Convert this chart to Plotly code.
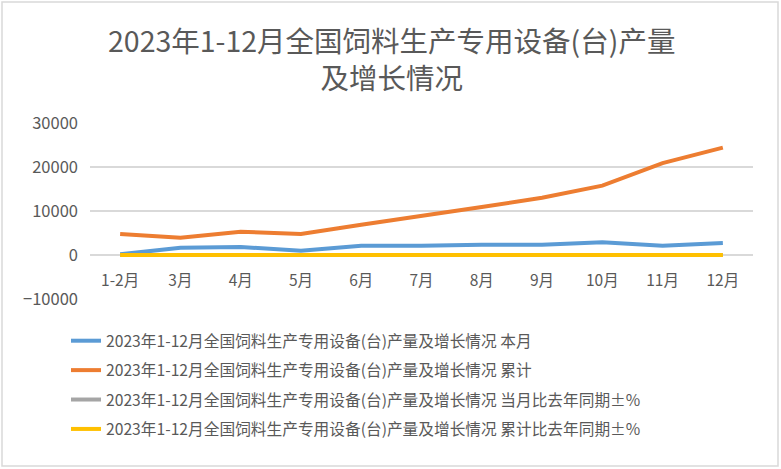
import plotly.graph_objects as go

categories = ["1-2月", "3月", "4月", "5月", "6月", "7月", "8月", "9月", "10月", "11月", "12月"]
monthly = [150, 1670, 1820, 980, 2120, 2120, 2350, 2350, 2880, 2120, 2730]
cumulative = [4770, 3940, 5300, 4770, 6890, 8790, 10900, 13030, 15760, 20900, 24390]
monthly_yoy = [-12.5, 8.3, 15.2, -20.1, 5.6, 10.4, -3.2, 12.8, 18.5, -6.7, 9.1]
cumulative_yoy = [-12.5, -5.4, 2.1, -3.8, -1.2, 1.5, 0.9, 2.8, 5.1, 3.6, 4.2]
tick_vals = [-10000, 0, 10000, 20000, 30000]

prefix = "2023年1-12月全国饲料生产专用设备(台)产量及增长情况 "
series = [
    (prefix + "本月", monthly, "#5B9BD5"),
    (prefix + "累计", cumulative, "#ED7D31"),
    (prefix + "当月比去年同期±%", monthly_yoy, "#A5A5A5"),
    (prefix + "累计比去年同期±%", cumulative_yoy, "#FFC000"),
]

FONT = "Noto Sans CJK SC"
fig = go.Figure()
for i, (name, vals, color) in enumerate(series):
    fig.add_trace(go.Scatter(x=categories, y=vals, name=name, mode="lines",
                             line=dict(color=color, width=4), legendgroup=f"g{i}"))

L, R, T, B = 90, 753, 123, 299
W, H = 781, 469

def px_x(p):
    return (p - L) / (R - L)

def px_y(p):
    return (B - p) / (B - T)

fig.update_layout(
    width=W, height=H,
    margin=dict(l=L, r=W - R, t=T, b=H - B),
    paper_bgcolor="white", plot_bgcolor="white",
    font=dict(family=FONT, color="#595959", size=15),
    xaxis=dict(anchor="free", position=px_y(255), showgrid=False, showline=False,
               zeroline=False, ticks="outside", ticklen=11, tickcolor="rgba(0,0,0,0)",
               range=[-0.5, len(categories) - 0.5],
               tickfont=dict(size=15.5, color="#595959"), fixedrange=True),
    yaxis=dict(range=[-10000, 30000], tickvals=tick_vals, tickformat="d", showgrid=True,
               gridcolor="#d9d9d9", gridwidth=1.5, zeroline=True, zerolinecolor="#d9d9d9",
               zerolinewidth=1.5, showline=False, tickfont=dict(size=16.5, color="#595959"),
               ticks="", ticklabelstandoff=11, fixedrange=True),
    showlegend=True,
    legend=dict(x=px_x(66), xanchor="left", y=px_y(324), yanchor="top",
                traceorder="grouped", tracegroupgap=6, itemwidth=30,
                font=dict(size=15.7, color="#595959", family=FONT),
                bgcolor="rgba(0,0,0,0)"),
    annotations=[dict(text="2023年1-12月全国饲料生产专用设备(台)产量<br>及增长情况",
                      xref="paper", yref="paper", x=px_x(391), y=px_y(58),
                      xanchor="center", yanchor="middle", showarrow=False, align="center",
                      font=dict(size=28.5, color="#595959", family=FONT))],
    shapes=[dict(type="rect", xref="paper", yref="paper",
                 x0=px_x(2), x1=px_x(778), y0=px_y(466), y1=px_y(2),
                 line=dict(color="#d9d9d9", width=1.5), fillcolor="rgba(0,0,0,0)", layer="below")],
)

fig.write_html("out.html")
